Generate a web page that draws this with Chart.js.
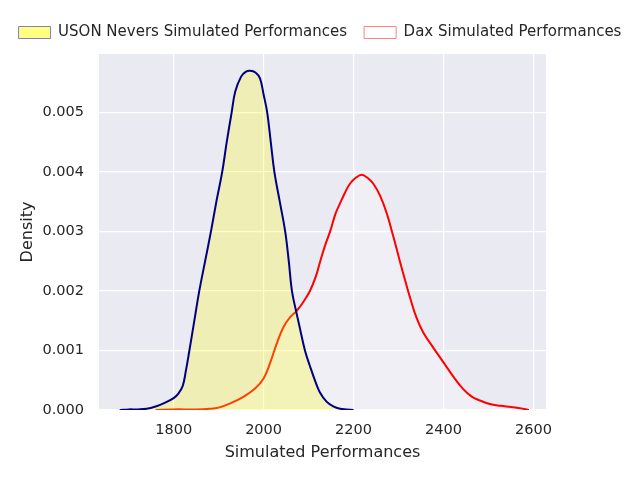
<!DOCTYPE html>
<html>
<head>
<meta charset="utf-8">
<script src="https://cdn.jsdelivr.net/npm/chart.js@4"></script>
<style>
  html, body { margin: 0; padding: 0; background: #ffffff; }
  #wrap { width: 640px; height: 480px; }
</style>
</head>
<body>
<div id="wrap"><canvas id="kdeChart" width="640" height="480"></canvas></div>
<script>
// series names
const seriesNames = ['USON Nevers Simulated Performances', 'Dax Simulated Performances'];

// USON Nevers density curve (performance, density)
const usonX = [1680, 1700, 1720, 1740, 1760, 1780, 1800, 1810, 1820, 1827, 1835, 1846, 1857, 1870, 1883, 1895, 1908, 1918, 1929, 1937, 1950, 1960, 1970, 1982, 1992, 2000, 2008, 2016, 2024, 2036, 2048, 2056, 2063, 2072, 2080, 2092, 2103, 2115, 2125, 2140, 2155, 2170, 2185, 2200];
const usonY = [0, 0.00001, 0.00001, 0.00002, 0.00006, 0.00012, 0.0002, 0.00027, 0.0004, 0.00065, 0.001, 0.0015, 0.002, 0.0025, 0.003, 0.0035, 0.004, 0.0045, 0.005, 0.00535, 0.0056, 0.00568, 0.0057, 0.00567, 0.00557, 0.0053, 0.005, 0.0045, 0.004, 0.0035, 0.003, 0.0025, 0.002, 0.00167, 0.0014, 0.001, 0.00074, 0.00048, 0.0003, 0.00014, 0.00006, 0.00002, 0.00001, 0];

// Dax density curve
const daxX = [1760, 1800, 1850, 1880, 1900, 1926, 1955, 1981, 2000, 2014, 2029, 2044, 2059, 2074, 2088, 2103, 2116, 2126, 2137, 2148, 2160, 2170, 2181, 2192, 2205, 2218, 2231, 2244, 2259, 2274, 2289, 2303, 2315, 2326, 2340, 2355, 2378, 2400, 2422, 2444, 2462, 2481, 2503, 2526, 2550, 2570, 2590];
const daxY = [0, 0.00001, 0.00001, 0.00002, 0.00004, 0.00011, 0.00022, 0.00036, 0.00053, 0.00078, 0.00111, 0.00139, 0.00156, 0.00167, 0.00181, 0.002, 0.00224, 0.0025, 0.00277, 0.003, 0.0033, 0.00347, 0.00365, 0.0038, 0.0039, 0.00395, 0.0039, 0.0038, 0.0036, 0.0033, 0.0029, 0.0025, 0.00217, 0.00188, 0.00155, 0.0013, 0.00104, 0.0008, 0.00056, 0.00035, 0.00023, 0.00016, 0.0001, 0.00007, 0.00005, 0.00003, 0];

// tick labels
const xTicks = [1800, 2000, 2200, 2400, 2600];
const yTicks = [0, 0.001, 0.002, 0.003, 0.004, 0.005];

const textColor = '#262626';
const legendFill = ['#ffff80', '#ffffff'];
const legendStroke = ['#8080bf', '#ff8080'];

const toPoints = (xs, ys) => xs.map((x, i) => ({ x: x, y: ys[i] }));

const plotBg = {
  id: 'plotBg',
  beforeDraw(chart) {
    const a = chart.chartArea, ctx = chart.ctx;
    ctx.save();
    ctx.fillStyle = '#eaeaf2';
    ctx.fillRect(a.left, a.top, a.right - a.left, a.bottom - a.top);
    ctx.restore();
  }
};

new Chart(document.getElementById('kdeChart'), {
  type: 'line',
  data: {
    datasets: [{
      label: seriesNames[0],
      data: toPoints(usonX, usonY),
      borderColor: '#000080',
      backgroundColor: 'rgba(255,255,0,0.25)',
      borderWidth: 2,
      fill: 'origin',
      pointRadius: 0,
      tension: 0.4
    }, {
      label: seriesNames[1],
      data: toPoints(daxX, daxY),
      borderColor: '#ff0000',
      backgroundColor: 'rgba(255,255,255,0.25)',
      borderWidth: 2,
      fill: 'origin',
      pointRadius: 0,
      tension: 0.4
    }]
  },
  options: {
    responsive: false,
    animation: false,
    layout: { padding: { top: 8, left: 0, right: 0, bottom: 0 } },
    plugins: {
      tooltip: { enabled: false },
      legend: {
        position: 'top',
        labels: {
          color: textColor,
          font: { family: 'DejaVu Sans', size: 15 },
          boxWidth: 32,
          boxHeight: 12,
          padding: 17,
          generateLabels(chart) {
            const items = Chart.defaults.plugins.legend.labels.generateLabels(chart);
            items.forEach((it, i) => {
              it.fillStyle = legendFill[i];
              it.strokeStyle = legendStroke[i];
              it.lineWidth = 1;
            });
            return items;
          }
        }
      }
    },
    scales: {
      x: {
        type: 'linear',
        min: 1634,
        max: 2628,
        afterFit(sc) { sc.height = 70; },
        afterBuildTicks(sc) { sc.ticks = xTicks.map(v => ({ value: v })); },
        grid: { color: '#ffffff', lineWidth: 1.2, drawTicks: false },
        border: { display: false },
        ticks: {
          color: textColor,
          font: { family: 'DejaVu Sans', size: 14.5 },
          padding: 12,
          maxRotation: 0,
          callback: v => String(v)
        },
        title: {
          display: true,
          text: 'Simulated Performances',
          color: textColor,
          font: { family: 'DejaVu Sans', size: 16 },
          padding: { top: 0, bottom: 18 }
        }
      },
      xTop: {
        type: 'linear',
        position: 'top',
        afterFit(sc) { sc.height = 4; },
        grid: { display: false, drawTicks: false },
        border: { display: false },
        ticks: { display: false }
      },
      y: {
        min: 0,
        max: 0.00598,
        afterFit(sc) { sc.width = 99; },
        afterBuildTicks(sc) { sc.ticks = yTicks.map(v => ({ value: v })); },
        grid: { color: '#ffffff', lineWidth: 1.2, drawTicks: false },
        border: { display: false },
        ticks: {
          color: textColor,
          font: { family: 'DejaVu Sans', size: 14.5 },
          padding: 15,
          callback: v => v.toFixed(3)
        },
        title: {
          display: true,
          text: 'Density',
          color: textColor,
          font: { family: 'DejaVu Sans', size: 16 },
          padding: { top: 18, bottom: 0 }
        }
      },
      yRight: {
        position: 'right',
        afterFit(sc) { sc.width = 94; },
        grid: { display: false, drawTicks: false },
        border: { display: false },
        ticks: { display: false }
      }
    }
  },
  plugins: [plotBg]
});
</script>
</body>
</html>
